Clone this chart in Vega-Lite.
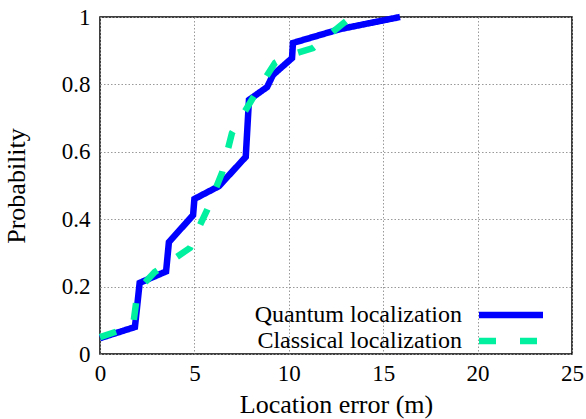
{
  "$schema": "https://vega.github.io/schema/vega-lite/v6.json",
  "width": 472,
  "height": 337,
  "autosize": {"type": "none"},
  "padding": {"left": 100, "top": 17, "right": 14, "bottom": 65},
  "background": "white",
  "datasets": {
    "cdf": [
      {"series": "Quantum localization", "i": 1, "x": 0, "y": 0.047},
      {"series": "Quantum localization", "i": 2, "x": 1.85, "y": 0.08},
      {"series": "Quantum localization", "i": 3, "x": 2.1, "y": 0.211},
      {"series": "Quantum localization", "i": 4, "x": 3.5, "y": 0.245},
      {"series": "Quantum localization", "i": 5, "x": 3.65, "y": 0.332},
      {"series": "Quantum localization", "i": 6, "x": 4.93, "y": 0.412},
      {"series": "Quantum localization", "i": 7, "x": 5.0, "y": 0.46},
      {"series": "Quantum localization", "i": 8, "x": 6.3, "y": 0.498},
      {"series": "Quantum localization", "i": 9, "x": 7.72, "y": 0.585},
      {"series": "Quantum localization", "i": 10, "x": 7.89, "y": 0.754},
      {"series": "Quantum localization", "i": 11, "x": 8.85, "y": 0.792},
      {"series": "Quantum localization", "i": 12, "x": 9.16, "y": 0.828},
      {"series": "Quantum localization", "i": 13, "x": 10.17, "y": 0.878},
      {"series": "Quantum localization", "i": 14, "x": 10.22, "y": 0.923},
      {"series": "Quantum localization", "i": 15, "x": 12.71, "y": 0.964},
      {"series": "Quantum localization", "i": 16, "x": 15.89, "y": 1.0},
      {"series": "Classical localization", "i": 1, "x": 0, "y": 0.05},
      {"series": "Classical localization", "i": 2, "x": 1.75, "y": 0.083},
      {"series": "Classical localization", "i": 3, "x": 2.0, "y": 0.19},
      {"series": "Classical localization", "i": 4, "x": 2.9, "y": 0.243},
      {"series": "Classical localization", "i": 5, "x": 4.77, "y": 0.315},
      {"series": "Classical localization", "i": 6, "x": 5.3, "y": 0.383},
      {"series": "Classical localization", "i": 7, "x": 5.67, "y": 0.427},
      {"series": "Classical localization", "i": 8, "x": 6.46, "y": 0.537},
      {"series": "Classical localization", "i": 9, "x": 6.99, "y": 0.656},
      {"series": "Classical localization", "i": 10, "x": 8.1, "y": 0.76},
      {"series": "Classical localization", "i": 11, "x": 9.27, "y": 0.864},
      {"series": "Classical localization", "i": 12, "x": 9.9, "y": 0.884},
      {"series": "Classical localization", "i": 13, "x": 11.28, "y": 0.908},
      {"series": "Classical localization", "i": 14, "x": 13.24, "y": 0.997}
    ]
  },
  "data": {"name": "cdf"},
  "encoding": {
    "x": {
      "field": "x",
      "type": "quantitative",
      "scale": {"domain": [0, 25], "nice": false, "zero": false},
      "axis": {
        "title": "Location error (m)",
        "values": [0, 5, 10, 15, 20, 25],
        "format": "d",
        "labelFlush": false,
        "labelOverlap": false,
        "labelPadding": 8,
        "titlePadding": 6
      }
    },
    "y": {
      "field": "y",
      "type": "quantitative",
      "scale": {"domain": [0, 1], "nice": false},
      "axis": {
        "title": "Probability",
        "values": [0, 0.2, 0.4, 0.6, 0.8, 1],
        "format": ".1~f",
        "labelFlush": false,
        "labelOverlap": false,
        "labelPadding": 10,
        "titlePadding": 32
      }
    },
    "order": {"field": "i", "type": "quantitative"},
    "color": {
      "field": "series",
      "type": "nominal",
      "scale": {
        "domain": ["Quantum localization", "Classical localization"],
        "range": ["#0000ff", "#00f0a0"]
      },
      "legend": {
        "title": null,
        "orient": "none",
        "legendX": 399,
        "legendY": 286,
        "padding": 0,
        "symbolType": "M-4,0H4",
        "symbolSize": 256,
        "symbolStrokeWidth": 6.5,
        "labelAlign": "right",
        "labelOffset": -61,
        "labelFontSize": 24,
        "labelFont": "Liberation Serif",
        "labelColor": "black",
        "labelLimit": 400,
        "rowPadding": 0
      }
    },
    "strokeDash": {
      "field": "series",
      "type": "nominal",
      "scale": {
        "domain": ["Quantum localization", "Classical localization"],
        "range": [[1, 0], [17, 24]]
      },
      "legend": null
    }
  },
  "layer": [
    {
      "transform": [{"filter": "datum.series === 'Quantum localization'"}],
      "mark": {"type": "line", "strokeWidth": 6.5, "strokeCap": "butt", "strokeJoin": "miter"}
    },
    {
      "transform": [{"filter": "datum.series === 'Classical localization'"}],
      "mark": {"type": "line", "strokeWidth": 6.5, "strokeCap": "butt", "strokeJoin": "miter"}
    }
  ],
  "config": {
    "view": {"stroke": "black", "strokeWidth": 1.5},
    "font": "Liberation Serif",
    "axis": {
      "labelFont": "Liberation Serif",
      "labelFontSize": 23,
      "labelColor": "black",
      "titleFont": "Liberation Serif",
      "titleFontSize": 26,
      "titleFontWeight": "normal",
      "titleColor": "black",
      "ticks": false,
      "domain": false,
      "grid": true,
      "gridColor": "#999999",
      "gridDash": [1.5, 2],
      "gridWidth": 1
    }
  }
}
